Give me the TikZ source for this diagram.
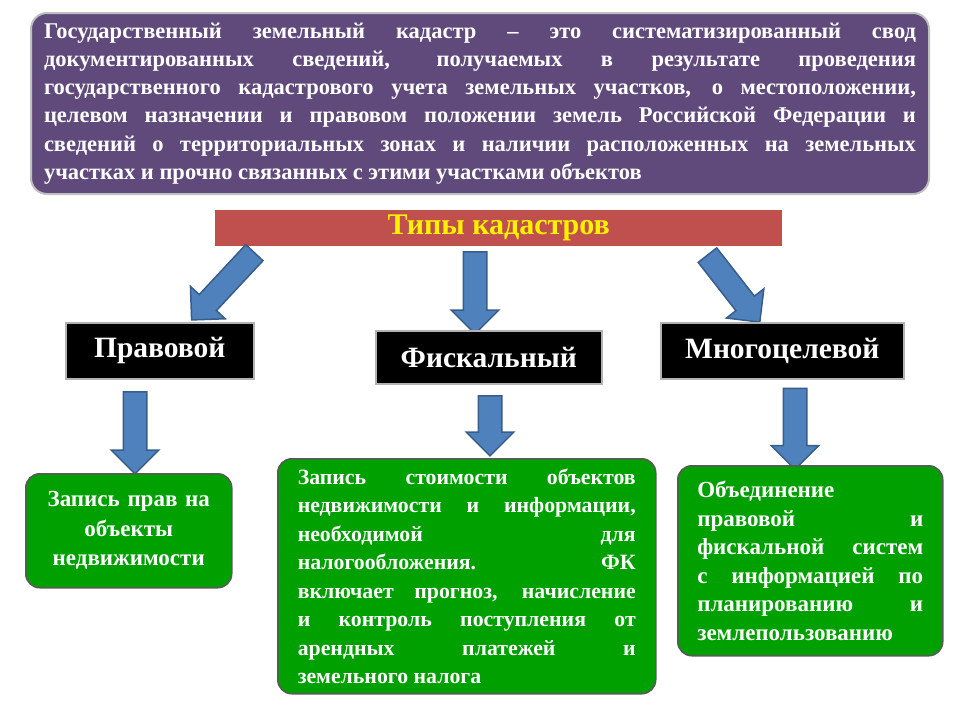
\documentclass[tikz,border=0pt]{standalone}
\usepackage{fontspec}
\setmainfont{Liberation Serif}
\usetikzlibrary{shapes.arrows}
\definecolor{topfill}{HTML}{604A7B}
\definecolor{barred}{HTML}{C0504D}
\definecolor{arrowblue}{HTML}{4F81BD}
\definecolor{arrowedge}{HTML}{385D8A}
\definecolor{boxgreen}{HTML}{00A000}

\tikzset{
  blockarrow/.style={single arrow, draw=arrowedge, fill=arrowblue, line width=1.5pt,
    single arrow head extend=12pt, single arrow tip angle=90, inner xsep=0pt, inner ysep=11pt},
  typebox/.style={draw=gray!60, line width=1.5pt, fill=black, text=white,
    font=\fontsize{29.5}{34}\selectfont\bfseries, anchor=north west},
  infobox/.style={draw=gray!70!black, line width=1.5pt, fill=boxgreen, rounded corners=14pt,
    text=white, font=\fontsize{21.8}{28.5}\selectfont\bfseries, anchor=north west}
}

\begin{document}
\begin{tikzpicture}[x=1pt,y=-1pt]
\useasboundingbox (0,0) rectangle (960,720);

% definition
\node[draw=gray!50, line width=2pt, fill=topfill, rounded corners=16pt, anchor=north west,
  minimum width=898pt, minimum height=181pt, text width=872pt, align=justify, text=white,
  font=\fontsize{22.5}{28.3}\selectfont\bfseries] (def) at (30,12)
  {Государственный земельный кадастр – это систематизированный свод\linebreak документированных сведений, получаемых в результате проведения\linebreak государственного кадастрового учета земельных участков, о местоположении,\linebreak целевом назначении и правовом положении земель Российской Федерации и\linebreak сведений о территориальных зонах и наличии расположенных на земельных\linebreak участках и прочно связанных с этими участками объектов};

% types bar
\node[fill=barred, anchor=north west, minimum width=567pt, minimum height=36pt,
  text=yellow, font=\fontsize{30}{34}\selectfont\bfseries] (types) at (215,210) {Типы кадастров};

% arrows from bar
\node[blockarrow, minimum height=92pt, rotate=-133] (a1) at (227,282) {};
\node[blockarrow, minimum height=82pt, rotate=-90] (a2) at (475,287) {};
\node[blockarrow, minimum height=85pt, rotate=-52] (a3) at (730,284) {};

% types
\node[typebox, minimum width=188pt, minimum height=56pt] (legal) at (65,322) {Правовой};
\node[typebox, minimum width=226pt, minimum height=53pt] (fiscal) at (375,330) {Фискальный};
\node[typebox, minimum width=243pt, minimum height=56pt] (multi) at (660,322) {Многоцелевой};

% arrows down
\node[blockarrow, minimum height=82pt, rotate=-90] (d1) at (135,427) {};
\node[blockarrow, minimum height=60pt, rotate=-90] (d2) at (490,420) {};
\node[blockarrow, minimum height=81pt, rotate=-90] (d3) at (795,423) {};

% descriptions
\node[infobox, minimum width=206pt, minimum height=114pt, text width=200pt, align=center,
  font=\fontsize{23}{29.5}\selectfont\bfseries, inner xsep=3pt] (legaltxt) at (25,473)
  {Запись прав на\\объекты\\недвижимости};
\node[infobox, minimum width=378pt, minimum height=235pt, text width=338pt, align=justify, inner xsep=19pt] (fiscaltxt) at (277,458)
  {Запись стоимости объектов\linebreak недвижимости и информации,\linebreak необходимой для\linebreak налогообложения. ФК\linebreak включает прогноз, начисление\linebreak и контроль поступления от\linebreak арендных платежей и\linebreak земельного налога};
\node[infobox, minimum width=265pt, minimum height=190pt, text width=226pt, align=justify, inner xsep=19pt,
  font=\fontsize{23}{28.5}\selectfont\bfseries] (multitxt) at (677,465)
  {Объединение\newline правовой и\linebreak фискальной систем\linebreak с информацией по\linebreak планированию и\linebreak землепользованию};
\end{tikzpicture}
\end{document}
